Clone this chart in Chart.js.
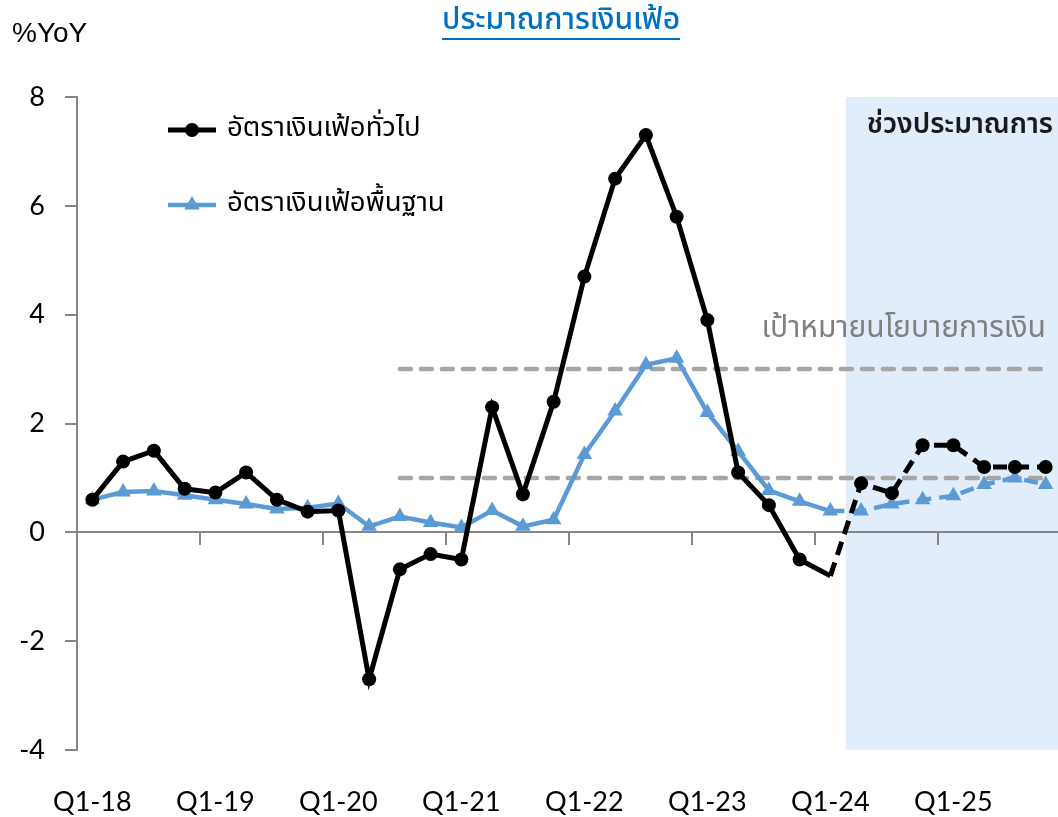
<!DOCTYPE html>
<html>
<head>
<meta charset="utf-8">
<script src="https://cdn.jsdelivr.net/npm/chart.js@4.4.1/dist/chart.umd.min.js"></script>
<style>
    html, body { margin: 0; padding: 0; background: #fff; overflow: hidden; }
    #wrap { width: 1070px; height: 817px; position: relative; }
</style>
</head>
<body>
<div id="wrap"><canvas id="graphCanvas"></canvas></div>
<script>
var quarters = ['Q1-18', 'Q2-18', 'Q3-18', 'Q4-18', 'Q1-19', 'Q2-19', 'Q3-19', 'Q4-19',
    'Q1-20', 'Q2-20', 'Q3-20', 'Q4-20', 'Q1-21', 'Q2-21', 'Q3-21', 'Q4-21',
    'Q1-22', 'Q2-22', 'Q3-22', 'Q4-22', 'Q1-23', 'Q2-23', 'Q3-23', 'Q4-23',
    'Q1-24', 'Q2-24', 'Q3-24', 'Q4-24', 'Q1-25', 'Q2-25', 'Q3-25', 'Q4-25'];

var headline = [0.6, 1.3, 1.5, 0.8, 0.73, 1.1, 0.6, 0.38,
    0.4, -2.7, -0.68, -0.4, -0.5, 2.3, 0.7, 2.4,
    4.7, 6.5, 7.3, 5.8, 3.9, 1.1, 0.5, -0.5,
    -0.8, 0.9, 0.72, 1.6, 1.6, 1.2, 1.2, 1.2];

var core = [0.6, 0.74, 0.76, 0.68, 0.6, 0.52, 0.43, 0.45,
    0.53, 0.11, 0.29, 0.18, 0.09, 0.4, 0.11, 0.23,
    1.43, 2.23, 3.08, 3.2, 2.2, 1.49, 0.77, 0.57,
    0.39, 0.39, 0.52, 0.6, 0.67, 0.88, 1.0, 0.88];

var targetLow = [null, null, null, null, null, null, null, null,
    null, null, 1, 1, 1, 1, 1, 1,
    1, 1, 1, 1, 1, 1, 1, 1,
    1, 1, 1, 1, 1, 1, 1, 1];

var targetHigh = [null, null, null, null, null, null, null, null,
    null, null, 3, 3, 3, 3, 3, 3,
    3, 3, 3, 3, 3, 3, 3, 3,
    3, 3, 3, 3, 3, 3, 3, 3];

var yMin = -4;
var yMax = 8;
var yStep = 2;
var dashFrom = 'Q1-24';       // projections are drawn dashed from here
var forecastStart = 'Q2-24';  // shaded forecast period

var thaiFont = "'Noto Sans Thai', 'Noto Sans', sans-serif";
var axisGrey = '#868686';

var dashIdx = quarters.indexOf(dashFrom);

function projDash(dash) {
    return function (ctx) {
        return ctx.p0DataIndex >= dashIdx ? dash : undefined;
    };
}

var notes = {
    id: 'notes',
    beforeDraw: function (chart) {
        var ctx = chart.ctx;
        var area = chart.chartArea;
        var x = chart.scales.x;
        var i = quarters.indexOf(forecastStart);
        var half = (x.getPixelForValue(1) - x.getPixelForValue(0)) / 2;
        var left = x.getPixelForValue(i) - half;
        ctx.save();
        ctx.fillStyle = '#E1EDFA';
        ctx.fillRect(left, area.top, area.right - left, area.bottom - area.top);
        ctx.restore();
    },
    afterDraw: function (chart) {
        var ctx = chart.ctx;
        ctx.save();
        ctx.textBaseline = 'middle';

        // title
        ctx.font = '500 30px ' + thaiFont;
        ctx.fillStyle = '#0070C0';
        ctx.textAlign = 'center';
        var title = 'ประมาณการเงินเฟ้อ';
        ctx.fillText(title, 561, 23);
        var w = ctx.measureText(title).width;
        ctx.fillRect(561 - w / 2, 38, w, 2);

        // unit
        ctx.font = '28px "Liberation Sans", Arial, sans-serif';
        ctx.fillStyle = '#000';
        ctx.textAlign = 'left';
        ctx.fillText('%YoY', 12, 34);

        // legend
        var ds = chart.data.datasets;
        var rows = [[ds[0], 130], [ds[1], 205]];
        rows.forEach(function (r) {
            var d = r[0], y = r[1];
            ctx.strokeStyle = d.borderColor;
            ctx.fillStyle = d.borderColor;
            ctx.lineWidth = d.borderWidth;
            ctx.beginPath();
            ctx.moveTo(168, y);
            ctx.lineTo(216, y);
            ctx.stroke();
            Chart.helpers.drawPoint(ctx, {
                pointStyle: d.pointStyle, radius: d.legendRadius, rotation: 0, borderWidth: 0
            }, 192, y);
            ctx.fillStyle = '#000';
            ctx.font = '27.5px ' + thaiFont;
            ctx.textAlign = 'left';
            ctx.fillText(d.label, 227, y);
        });

        ctx.font = '600 28px ' + thaiFont;
        ctx.fillStyle = '#1a1a1a';
        ctx.textAlign = 'right';
        ctx.fillText('ช่วงประมาณการ', 1053, 127);

        ctx.font = '30px ' + thaiFont;
        ctx.fillStyle = '#808080';
        ctx.textAlign = 'right';
        ctx.fillText('เป้าหมายนโยบายการเงิน', 1046, 331);
        ctx.restore();
    }
};

var chartdata = {
    labels: quarters,
    datasets: [
        {
            label: 'อัตราเงินเฟ้อทั่วไป',
            data: headline,
            borderColor: '#000000',
            backgroundColor: '#000000',
            borderWidth: 5,
            pointStyle: 'circle',
            legendRadius: 7,
            pointRadius: function (c) { return c.dataIndex === dashIdx ? 0 : 7; },
            pointBorderWidth: 0,
            pointHoverRadius: 7,
            segment: { borderDash: projDash([14, 8]) },
            order: 1
        },
        {
            label: 'อัตราเงินเฟ้อพื้นฐาน',
            data: core,
            borderColor: '#5B9BD5',
            backgroundColor: '#5B9BD5',
            borderWidth: 4.5,
            pointStyle: 'triangle',
            legendRadius: 9,
            pointRadius: 9,
            pointBorderWidth: 0,
            pointHoverRadius: 9,
            segment: { borderDash: projDash([14, 8]) },
            order: 2
        },
        {
            label: 'target high',
            data: targetHigh,
            borderColor: '#A6A6A6',
            borderWidth: 4.5,
            borderDash: [11, 10],
            borderCapStyle: 'round',
            pointRadius: 0,
            order: 3
        },
        {
            label: 'target low',
            data: targetLow,
            borderColor: '#A6A6A6',
            borderWidth: 4.5,
            borderDash: [11, 10],
            borderCapStyle: 'round',
            pointRadius: 0,
            order: 3
        }
    ]
};

var graphTarget = document.getElementById('graphCanvas');

var lineGraph = new Chart(graphTarget, {
    type: 'line',
    data: chartdata,
    plugins: [notes],
    options: {
        responsive: true,
        maintainAspectRatio: false,
        animation: false,
        layout: { padding: { top: 97, right: 0, bottom: 0, left: 0 } },
        plugins: {
            legend: { display: false },
            tooltip: { enabled: false }
        },
        scales: {
            x: {
                offset: true,
                // invisible tick marks only push the labels down
                grid: { drawOnChartArea: false, drawTicks: true, tickLength: 36, color: 'rgba(0,0,0,0)' },
                border: { display: false },
                ticks: {
                    autoSkip: false,
                    maxRotation: 0,
                    padding: 0,
                    color: '#000',
                    font: { family: 'Lato', size: 27 },
                    callback: function (v, i) { return i % 4 === 0 ? quarters[i] : ''; }
                },
                afterFit: function (s) { s.height = 67; }
            },
            x2: {
                type: 'category',
                axis: 'x',
                labels: quarters,
                offset: true,
                position: { y: 0 },
                grid: {
                    offset: true,
                    drawOnChartArea: false,
                    drawTicks: true,
                    tickLength: 12,
                    lineWidth: 2,
                    color: function (c) { return c.index % 4 === 0 ? axisGrey : 'rgba(0,0,0,0)'; }
                },
                border: { color: axisGrey, width: 2 },
                ticks: { display: false, padding: 0 }
            },
            y: {
                min: yMin,
                max: yMax,
                ticks: {
                    stepSize: yStep,
                    padding: 20,
                    color: '#000',
                    font: { family: 'Lato', size: 27 }
                },
                grid: { drawOnChartArea: false, drawTicks: true, tickLength: 12, color: axisGrey, lineWidth: 2 },
                border: { color: axisGrey, width: 2 },
                afterFit: function (s) { s.width = 77; }
            }
        }
    }
});
</script>
</body>
</html>
